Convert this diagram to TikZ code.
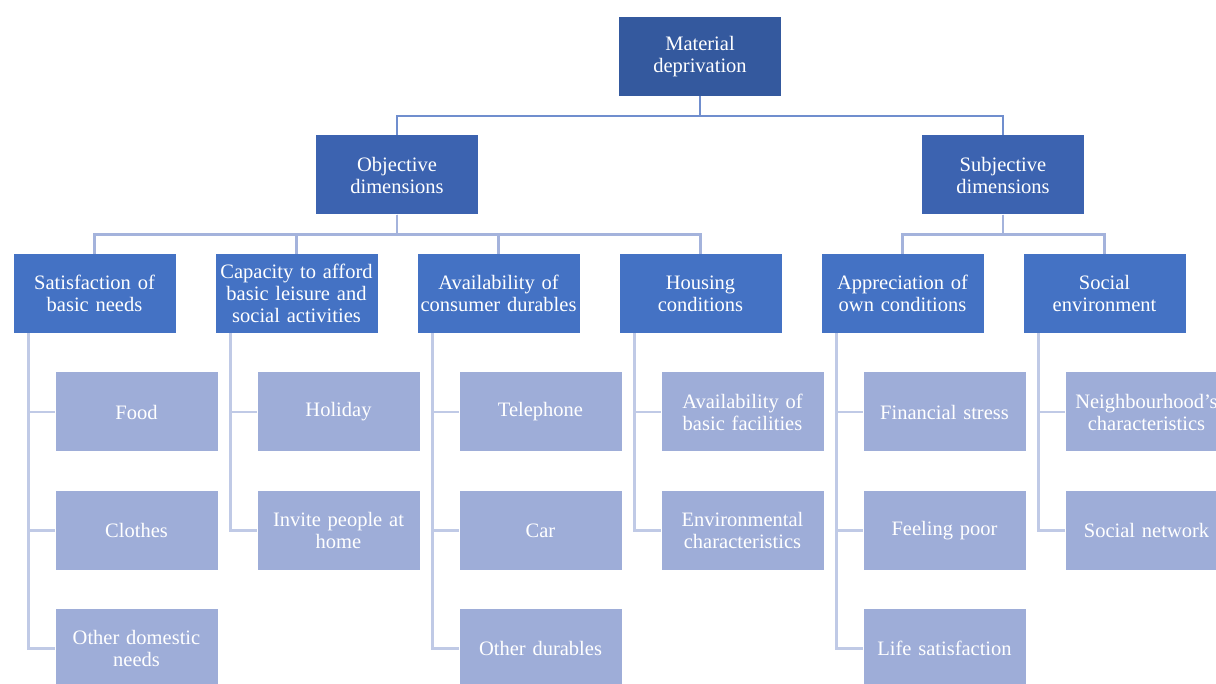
\documentclass[tikz,border=0pt]{standalone}
\usepackage{fontspec}
\setmainfont{Liberation Serif}[Ligatures=Common]
\usepackage{tikz}
\usetikzlibrary{positioning}

\definecolor{topblue}{RGB}{52,89,158}
\definecolor{midblue}{RGB}{60,99,176}
\definecolor{boxblue}{RGB}{68,114,196}
\definecolor{paleblue}{RGB}{158,173,216}
\definecolor{linkdark}{RGB}{112,142,206}
\definecolor{linkmid}{RGB}{164,179,220}
\definecolor{linkpale}{RGB}{192,202,230}

\tikzset{
  box/.style={rectangle, minimum width=162pt, minimum height=79pt, inner sep=0pt,
    text=white, align=center, font=\fontsize{20.5}{22}\selectfont},
  rootbox/.style={box, fill=topblue, text width=160pt},
  dimbox/.style={box, fill=midblue, text width=160pt},
  groupbox/.style={box, fill=boxblue, text width=162pt},
  itembox/.style={box, fill=paleblue, text width=158pt},
  link/.style={draw=linkdark, line width=2.4pt},
  sublink/.style={draw=linkmid, line width=2.4pt},
  itemlink/.style={draw=linkpale, line width=2.4pt}
}

\begin{document}
\begin{tikzpicture}[x=1pt,y=-1pt]
  \clip (0,0) rectangle (1216,684);
  \fill[white] (0,0) rectangle (1216,684);

  % top and the two dimensions
  \node[rootbox] (md) at (700,56.5) {Material\\deprivation};
  \node[dimbox] (obj) at (397,175) {Objective\\dimensions};
  \node[dimbox] (subj) at (1003,175) {Subjective\\dimensions};

  % groups
  \node[groupbox] (needs) at (94.5,293.5) {Satisfaction of\\basic needs};
  \node[groupbox] (leisure) at (296.5,293.5) {Capacity to afford\\basic leisure and\\social activities};
  \node[groupbox] (durables) at (498.5,293.5) {Availability of\\consumer durables};
  \node[groupbox] (housing) at (700.5,293.5) {Housing\\conditions};
  \node[groupbox] (apprec) at (902.5,293.5) {Appreciation of\\own conditions};
  \node[groupbox] (socenv) at (1104.5,293.5) {Social\\environment};

  % items
  \node[itembox] (food) at (136.5,412) {Food};
  \node[itembox] (clothes) at (136.5,530.5) {Clothes};
  \node[itembox] (domestic) at (136.5,648.5) {Other domestic\\needs};
  \node[itembox] (holiday) at (338.5,412) {Holiday};
  \node[itembox] (invite) at (338.5,530.5) {Invite people at\\home};
  \node[itembox] (phone) at (540.5,412) {Telephone};
  \node[itembox] (car) at (540.5,530.5) {Car};
  \node[itembox] (otherdur) at (540.5,648.5) {Other durables};
  \node[itembox] (facil) at (742.5,412) {Availability of\\basic facilities};
  \node[itembox] (envir) at (742.5,530.5) {Environmental\\characteristics};
  \node[itembox] (stress) at (944.5,412) {Financial stress};
  \node[itembox] (poor) at (944.5,530.5) {Feeling poor};
  \node[itembox] (lifesat) at (944.5,648.5) {Life satisfaction};
  \node[itembox] (neigh) at (1146.5,412) {Neighbourhood's\\characteristics};
  \node[itembox] (network) at (1146.5,530.5) {Social network};

  % connectors
  \draw[link] (md.south) -- ++(0,20) -| (obj.north);
  \draw[link] (md.south) -- ++(0,20) -| (subj.north);

  \foreach \g in {needs,leisure,durables,housing}
    \draw[sublink] (obj.south) -- ++(0,20) -| (\g.north);
  \foreach \g in {apprec,socenv}
    \draw[sublink] (subj.south) -- ++(0,20) -| (\g.north);

  \foreach \p/\c in {needs/food,needs/clothes,needs/domestic,
                     leisure/holiday,leisure/invite,
                     durables/phone,durables/car,durables/otherdur,
                     housing/facil,housing/envir,
                     apprec/stress,apprec/poor,apprec/lifesat,
                     socenv/neigh,socenv/network}
    \draw[itemlink] ([xshift=15pt]\p.south west) |- (\c.west);
\end{tikzpicture}
\end{document}
